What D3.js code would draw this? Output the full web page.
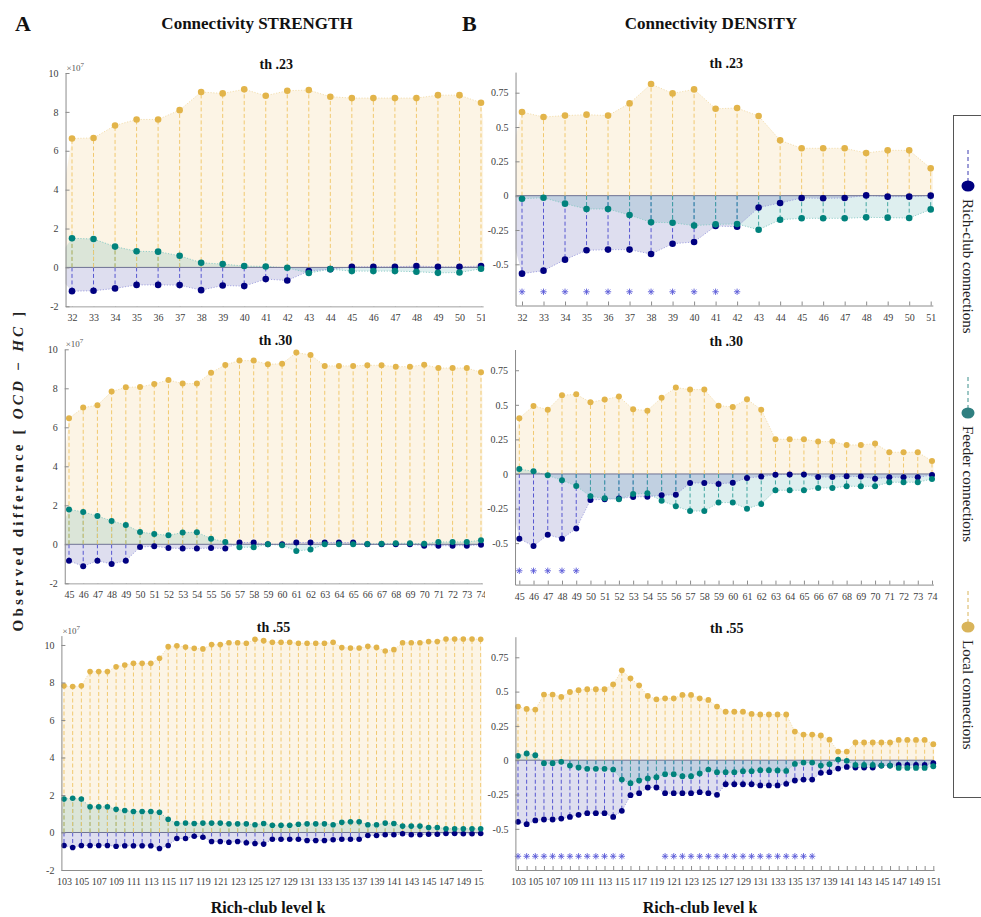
<!DOCTYPE html>
<html>
<head>
<meta charset="utf-8">
<script src="https://cdn.jsdelivr.net/npm/d3@7"></script>
<style>
  body { margin: 0; background: #fff; }
  svg { display: block; }
  text { font-family: "Liberation Serif", "Times New Roman", serif; }
</style>
</head>
<body>
<svg id="chart" width="981" height="917"></svg>
<script>
// ---- Rich-club levels (k) ----
const kLevels23 = [32,33,34,35,36,37,38,39,40,41,42,43,44,45,46,47,48,49,50,51];
const kLevels30 = [45,46,47,48,49,50,51,52,53,54,55,56,57,58,59,60,61,62,63,64,65,66,67,68,69,70,71,72,73,74];
const kLevels55 = [103,104,105,106,107,108,109,110,111,112,113,114,115,116,117,118,119,120,121,122,123,124,125,126,127,
                   128,129,130,131,132,133,134,135,136,137,138,139,140,141,142,143,144,145,146,147,148,149,150,151];

// ---- Connectivity strength, OCD - HC (x 10^7) ----
const strength23Rich   = [-1.22,-1.20,-1.08,-0.90,-0.90,-0.91,-1.17,-0.93,-0.96,-0.60,-0.67,-0.19,-0.09,0.03,0.03,0.03,0.07,0.03,0.03,0.07];
const strength23Feeder = [1.50,1.46,1.07,0.83,0.81,0.60,0.24,0.17,0.07,0.05,-0.02,-0.29,-0.09,-0.19,-0.19,-0.19,-0.22,-0.28,-0.26,-0.07];
const strength23Local  = [6.63,6.66,7.30,7.61,7.61,8.09,9.02,8.95,9.16,8.83,9.09,9.12,8.78,8.71,8.71,8.71,8.71,8.86,8.86,8.47];

const strength30Rich   = [-0.84,-1.13,-0.84,-1.01,-0.84,-0.14,-0.10,-0.19,-0.22,-0.22,-0.19,-0.22,0.09,0.09,0.00,0.00,0.09,0.09,0.09,0.09,
                          0.09,0.00,0.00,0.00,0.00,-0.07,-0.07,-0.07,-0.07,-0.02];
const strength30Feeder = [1.79,1.66,1.45,1.20,0.99,0.63,0.53,0.46,0.60,0.62,0.29,0.12,-0.15,-0.15,0.00,-0.05,-0.34,-0.27,0.00,0.00,
                          0.00,0.02,0.03,0.05,0.05,0.03,0.12,0.12,0.12,0.21];
const strength30Local  = [6.46,7.01,7.13,7.83,8.05,8.07,8.22,8.43,8.24,8.24,8.80,9.20,9.42,9.42,9.23,9.26,9.83,9.71,9.15,9.15,
                          9.15,9.18,9.18,9.11,9.11,9.21,9.04,9.04,9.04,8.82];

const strength55Rich   = [-0.69,-0.80,-0.69,-0.69,-0.69,-0.69,-0.73,-0.71,-0.71,-0.71,-0.71,-0.85,-0.69,-0.32,-0.32,-0.20,-0.25,-0.48,-0.48,-0.52,
                          -0.48,-0.55,-0.59,-0.62,-0.36,-0.36,-0.36,-0.36,-0.43,-0.43,-0.43,-0.39,-0.36,-0.36,-0.36,-0.16,-0.16,-0.12,-0.12,-0.07,
                          -0.12,-0.12,-0.09,-0.09,-0.05,-0.05,-0.07,-0.07,-0.05];
const strength55Feeder = [1.78,1.83,1.78,1.37,1.37,1.37,1.24,1.17,1.12,1.12,1.12,1.08,0.71,0.48,0.51,0.48,0.50,0.50,0.50,0.46,
                          0.46,0.46,0.41,0.48,0.39,0.39,0.39,0.44,0.46,0.46,0.46,0.41,0.55,0.57,0.57,0.41,0.41,0.50,0.48,0.34,
                          0.34,0.34,0.27,0.27,0.20,0.20,0.20,0.20,0.20];
const strength55Local  = [7.82,7.78,7.82,8.58,8.58,8.58,8.84,8.93,9.02,9.02,9.02,9.29,9.91,9.96,9.89,9.82,9.79,10.02,10.02,10.12,
                          10.12,10.09,10.30,10.23,10.14,10.14,10.14,10.09,10.09,10.09,10.09,10.14,9.86,9.84,9.84,9.93,9.87,9.68,9.75,10.12,
                          10.12,10.12,10.18,10.18,10.32,10.32,10.32,10.32,10.30];

// ---- Connectivity density, OCD - HC ----
const density23Rich   = [-0.568,-0.546,-0.466,-0.398,-0.393,-0.393,-0.425,-0.350,-0.337,-0.221,-0.226,-0.087,-0.053,-0.017,-0.019,-0.017,0.002,-0.007,-0.007,0.000];
const density23Feeder = [-0.022,-0.015,-0.058,-0.097,-0.097,-0.141,-0.194,-0.197,-0.218,-0.209,-0.206,-0.248,-0.175,-0.165,-0.165,-0.165,-0.158,-0.160,-0.163,-0.100];
const density23Local  = [0.609,0.573,0.583,0.590,0.583,0.672,0.813,0.745,0.774,0.633,0.638,0.580,0.403,0.345,0.345,0.345,0.311,0.330,0.330,0.199];

const density30Rich   = [-0.468,-0.521,-0.439,-0.468,-0.395,-0.188,-0.183,-0.178,-0.166,-0.164,-0.154,-0.150,-0.065,-0.065,-0.072,-0.063,-0.029,-0.019,-0.005,-0.003,
                         -0.003,-0.022,-0.022,-0.017,-0.019,-0.034,-0.024,-0.024,-0.024,-0.007];
const density30Feeder = [0.036,0.019,-0.010,-0.046,-0.087,-0.162,-0.176,-0.183,-0.145,-0.140,-0.193,-0.234,-0.268,-0.268,-0.207,-0.207,-0.251,-0.217,-0.118,-0.118,
                         -0.118,-0.101,-0.101,-0.089,-0.089,-0.089,-0.060,-0.060,-0.060,-0.036];
const density30Local  = [0.403,0.492,0.465,0.569,0.576,0.518,0.538,0.560,0.468,0.458,0.552,0.625,0.610,0.610,0.494,0.485,0.540,0.465,0.251,0.251,
                         0.251,0.234,0.234,0.210,0.210,0.220,0.157,0.157,0.157,0.094];

const density55Rich   = [-0.449,-0.466,-0.439,-0.432,-0.432,-0.425,-0.413,-0.398,-0.386,-0.386,-0.386,-0.413,-0.369,-0.255,-0.240,-0.199,-0.199,-0.240,-0.240,-0.240,
                         -0.240,-0.233,-0.240,-0.252,-0.175,-0.175,-0.175,-0.175,-0.184,-0.184,-0.184,-0.172,-0.148,-0.141,-0.141,-0.092,-0.087,-0.061,-0.049,-0.053,
                         -0.053,-0.053,-0.039,-0.039,-0.034,-0.034,-0.034,-0.034,-0.022];
const density55Feeder = [0.032,0.049,0.036,-0.022,-0.022,-0.012,-0.039,-0.053,-0.063,-0.063,-0.063,-0.068,-0.141,-0.167,-0.148,-0.133,-0.124,-0.102,-0.102,-0.117,
                         -0.117,-0.097,-0.068,-0.087,-0.087,-0.087,-0.080,-0.080,-0.073,-0.073,-0.075,-0.078,-0.027,-0.017,-0.017,-0.039,-0.029,0.005,-0.005,-0.034,
                         -0.034,-0.034,-0.039,-0.039,-0.056,-0.056,-0.056,-0.056,-0.044];
const density55Local  = [0.391,0.374,0.369,0.478,0.478,0.461,0.497,0.510,0.517,0.517,0.517,0.553,0.655,0.597,0.546,0.468,0.444,0.451,0.451,0.476,
                         0.476,0.451,0.439,0.391,0.354,0.354,0.354,0.337,0.333,0.333,0.333,0.333,0.209,0.187,0.187,0.180,0.150,0.063,0.063,0.129,
                         0.129,0.129,0.129,0.129,0.148,0.148,0.148,0.148,0.117];

// Rich-club levels with a significant rich-club density difference
const density23Sig = [32,33,34,35,36,37,38,39,40,41,42];
const density30Sig = [45,46,47,48,49];
const density55Sig = [103,104,105,106,107,108,109,110,111,112,113,114,115,
                      120,121,122,123,124,125,126,127,128,129,130,131,132,133,134,135,136,137];

// ---- Tick values ----
const strengthTicks = [-2,0,2,4,6,8,10];
const densityTicks  = [-0.5,-0.25,0,0.25,0.5,0.75];

const thresholds  = ["th .23", "th .30", "th .55"];
const seriesNames = ["Rich-club connections", "Feeder connections", "Local connections"];

// ---- Styling ----
const markColor = { rich: "#000080", feeder: "#00827c", local: "#e2b44a" };
const stemColor = { rich: "#5757d0", feeder: "#42a6a0", local: "#f1c970" };
const edgeColor = { rich: "#9a9ade", feeder: "#86c9c4", local: "#f2dba8" };
const areaColor = { rich: "rgba(0,0,128,0.13)", feeder: "rgba(0,128,128,0.13)", local: "rgba(232,180,80,0.15)" };

// Panel geometry: pixel of first/last k, top/bottom of value axis
const panels = [
  { k: kLevels23, rich: strength23Rich, feeder: strength23Feeder, local: strength23Local, sig: null, title: thresholds[0],
    x0: 72, x1: 481, yTop: 73, yBot: 306.3, yDom: [-2, 10], ticks: strengthTicks, every: 1, r: 3.3, exp: true },
  { k: kLevels30, rich: strength30Rich, feeder: strength30Feeder, local: strength30Local, sig: null, title: thresholds[1],
    x0: 69, x1: 481, yTop: 349.3, yBot: 583.3, yDom: [-2, 10], ticks: strengthTicks, every: 1, r: 3.0, exp: true },
  { k: kLevels55, rich: strength55Rich, feeder: strength55Feeder, local: strength55Local, sig: null, title: thresholds[2],
    x0: 64, x1: 480.7, yTop: 635.6, yBot: 870, yDom: [-2, 10.5], ticks: strengthTicks, every: 2, r: 2.8, exp: true },
  { k: kLevels23, rich: density23Rich, feeder: density23Feeder, local: density23Local, sig: density23Sig, title: thresholds[0],
    x0: 522, x1: 930.7, yTop: 72.1, yBot: 305.5, yDom: [-0.8, 0.9], ticks: densityTicks, every: 1, r: 3.3, exp: false },
  { k: kLevels30, rich: density30Rich, feeder: density30Feeder, local: density30Local, sig: density30Sig, title: thresholds[1],
    x0: 519.3, x1: 932, yTop: 349.5, yBot: 584.6, yDom: [-0.8, 0.9], ticks: densityTicks, every: 1, r: 3.0, exp: false },
  { k: kLevels55, rich: density55Rich, feeder: density55Feeder, local: density55Local, sig: density55Sig, title: thresholds[2],
    x0: 518, x1: 933.3, yTop: 636.7, yBot: 870, yDom: [-0.8, 0.9], ticks: densityTicks, every: 2, r: 2.9, exp: false }
];

// MATLAB-like '*' marker: plus and cross overlaid
const asteriskSymbol = {
  draw(ctx, size) {
    const r = Math.sqrt(size) / 2;
    for (let a = 0; a < 4; a++) {
      const t = a * Math.PI / 4;
      ctx.moveTo(r * Math.cos(t), r * Math.sin(t));
      ctx.lineTo(-r * Math.cos(t), -r * Math.sin(t));
    }
  }
};

const svg = d3.select("#chart");
const defs = svg.append("defs");

// clip for the left column's tick labels (they are cut at the column edge)
defs.append("clipPath").attr("id", "colA").append("rect")
  .attr("x", 0).attr("y", 0).attr("width", 485).attr("height", 917);

panels.forEach((p, i) => {
  const k0 = p.k[0], kn = p.k[p.k.length - 1];
  const unit = (p.x1 - p.x0) / (kn - k0);
  const x = d3.scaleLinear().domain([k0 - 0.3, kn + 0.1]).range([p.x0 - 0.3 * unit, p.x1 + 0.1 * unit]);
  const y = d3.scaleLinear().domain(p.yDom).range([p.yBot, p.yTop]);
  const [xl, xr] = x.range();

  const g = svg.append("g");
  const clipId = "plot" + i;
  defs.append("clipPath").attr("id", clipId).append("rect")
    .attr("x", xl).attr("y", p.yTop).attr("width", xr - xl).attr("height", p.yBot - p.yTop);
  const plot = g.append("g").attr("clip-path", `url(#${clipId})`);

  const series = ["local", "feeder", "rich"];
  const pts = s => p.k.map((kk, j) => ({ k: kk, v: p[s][j] }));

  // shaded areas between each series and zero
  const area = d3.area().x(d => x(d.k)).y0(y(0)).y1(d => y(d.v));
  series.forEach(s => {
    const ext = [{ k: k0 - 1, v: 0 }, ...pts(s), { k: kn + 1, v: 0 }];
    plot.append("path").datum(ext).attr("d", area).attr("fill", areaColor[s]);
  });
  // dotted outlines of the areas
  const line = d3.line().x(d => x(d.k)).y(d => y(d.v));
  series.forEach(s => {
    plot.append("path").datum(pts(s)).attr("d", line)
      .attr("fill", "none").attr("stroke", edgeColor[s]).attr("stroke-width", 0.9)
      .attr("stroke-dasharray", "1.2,1.6");
  });

  // zero reference line
  plot.append("line").attr("x1", xl).attr("x2", xr).attr("y1", y(0)).attr("y2", y(0))
    .attr("stroke", "#6f7294").attr("stroke-width", 1);

  // dashed stems
  ["rich", "feeder", "local"].forEach(s => {
    plot.append("g").selectAll("line").data(pts(s)).join("line")
      .attr("x1", d => x(d.k)).attr("x2", d => x(d.k))
      .attr("y1", y(0)).attr("y2", d => y(d.v))
      .attr("stroke", stemColor[s]).attr("stroke-width", 1)
      .attr("stroke-dasharray", "4,2.5");
  });
  // markers
  ["rich", "feeder", "local"].forEach(s => {
    g.append("g").selectAll("circle").data(pts(s)).join("circle")
      .attr("cx", d => x(d.k)).attr("cy", d => y(d.v)).attr("r", p.r)
      .attr("fill", markColor[s]);
  });

  // significance asterisks
  if (p.sig) {
    g.append("g").selectAll("path").data(p.sig).join("path")
      .attr("transform", d => `translate(${x(d)},${y(-0.7)})`)
      .attr("d", d3.symbol().type(asteriskSymbol).size(40))
      .attr("fill", "none").attr("stroke", "#5a5ad8").attr("stroke-width", 0.9);
  }

  // axes
  const yAxis = d3.axisLeft(y).tickValues(p.ticks).tickSizeInner(-4).tickSizeOuter(0).tickPadding(7)
    .tickFormat(d => String(d));
  const ya = g.append("g").attr("transform", `translate(${xl},0)`).call(yAxis);

  const xAxis = d3.axisBottom(x).tickValues(p.k).tickSizeInner(-4).tickSizeOuter(0).tickPadding(8)
    .tickFormat(d => ((d - k0) % p.every === 0 ? String(d) : ""));
  const xa = g.append("g").attr("transform", `translate(0,${p.yBot})`).call(xAxis);
  if (p.exp) xa.attr("clip-path", "url(#colA)");

  [ya, xa].forEach(a => {
    a.select(".domain").attr("stroke", "#8c8c8c").attr("stroke-width", 1);
    a.selectAll(".tick line").attr("stroke", "#8c8c8c");
    a.selectAll(".tick text").attr("fill", "#404040")
      .style("font-family", '"Liberation Serif", serif').style("font-size", "10px");
  });

  // exponent label on the strength axes
  if (p.exp) {
    const t = g.append("text").attr("x", xl + 1).attr("y", p.yTop - 2)
      .attr("fill", "#555").style("font-size", "9px");
    t.append("tspan").text("×10");
    t.append("tspan").attr("dy", -4).style("font-size", "7px").text("7");
  }

  // panel title
  g.append("text").attr("x", (xl + xr) / 2 + 2).attr("y", p.yTop - 4)
    .attr("text-anchor", "middle").style("font-weight", "bold").style("font-size", "14px")
    .attr("fill", "#111").text(p.title);
});

// column headers
const header = (x, y, size, txt, anchor) => svg.append("text").attr("x", x).attr("y", y)
  .attr("text-anchor", anchor).style("font-weight", "bold").style("font-size", size + "px")
  .attr("fill", "#111").text(txt);
header(15, 31, 22, "A", "start");
header(257, 29, 17, "Connectivity STRENGTH", "middle");
header(462, 31, 22, "B", "start");
header(711, 29, 17, "Connectivity DENSITY", "middle");

// x-axis labels
header(268, 913, 16, "Rich-club level k", "middle");
header(700, 913, 16, "Rich-club level k", "middle");

// shared y-axis label
const yl = svg.append("text").attr("transform", "translate(23,470) rotate(-90)")
  .attr("text-anchor", "middle").style("font-weight", "bold").style("font-size", "15px")
  .style("letter-spacing", "3.2px").attr("fill", "#222");
yl.append("tspan").text("Observed difference [ ");
yl.append("tspan").style("font-style", "italic").text("OCD  \u2212  HC");
yl.append("tspan").text(" ]");

// legend (vertical, cut at the right edge)
const lg = svg.append("g");
lg.append("rect").attr("x", 953.5).attr("y", 115.5).attr("width", 40).attr("height", 682)
  .attr("fill", "#fff").attr("stroke", "#555").attr("stroke-width", 1);
const legendKeys = ["rich", "feeder", "local"];
const legendY = [186, 413, 627];
legendKeys.forEach((s, i) => {
  const cy = legendY[i];
  lg.append("line").attr("x1", 968).attr("x2", 968).attr("y1", cy - 36).attr("y2", cy - 5)
    .attr("stroke", s === "rich" ? "#3b3bb0" : s === "feeder" ? "#3d8f8c" : "#d9b45a")
    .attr("stroke-dasharray", "4,3").attr("stroke-width", 1);
  lg.append("ellipse").attr("cx", 968).attr("cy", cy).attr("rx", 6.5).attr("ry", 5.5)
    .attr("fill", s === "rich" ? "#000080" : s === "feeder" ? "#2f7f80" : "#d9b45a");
  lg.append("text").attr("transform", `translate(968,${cy + 13}) rotate(90)`)
    .attr("dominant-baseline", "central").style("font-size", "15px").attr("fill", "#222")
    .text(seriesNames[i]);
});
</script>
</body>
</html>
